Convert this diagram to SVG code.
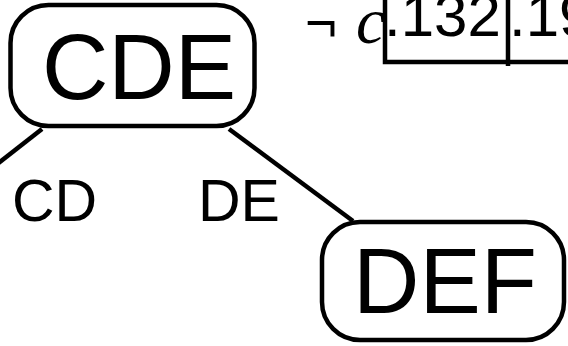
<svg xmlns="http://www.w3.org/2000/svg" width="568" height="346" viewBox="0 0 568 346">
  <style>
    .node rect { fill: #fff; stroke: #000; stroke-width: 4.5; }
    .node text { font-family: "Liberation Sans", Arial, sans-serif; font-size: 92px; text-anchor: middle; fill: #000; }
    .edge { stroke: #000; stroke-width: 4.5; fill: none; }
    .label { font-family: "Liberation Sans", Arial, sans-serif; font-size: 59px; fill: #000; }
    .cell { font-family: "Liberation Sans", Arial, sans-serif; font-size: 60px; fill: #000; }
    .grid { stroke: #000; stroke-width: 4.5; fill: none; }
  </style>

  <rect width="568" height="346" fill="#fff"/>

  <!-- connectors -->
  <g id="edges">
    <line class="edge" x1="42" y1="129" x2="-4" y2="165"/>
    <line class="edge" x1="229" y1="129" x2="353" y2="221"/>
    <text class="label" x="12" y="221">CD</text>
    <text class="label" x="198" y="221">DE</text>
  </g>

  <!-- nodes -->
  <g id="node-CDE" class="node">
    <rect x="10.5" y="5" width="244" height="121" rx="38" ry="38"/>
    <text x="139" y="99">CDE</text>
  </g>

  <g id="node-DEF" class="node">
    <rect x="322" y="222" width="242" height="118" rx="38" ry="38"/>
    <text x="445" y="313">DEF</text>
  </g>

  <!-- negated value table -->
  <g id="table">
    <text x="305" y="42" font-family="Liberation Sans, Arial, sans-serif" font-size="55">¬</text>
    <text x="356" y="43" font-family="Liberation Serif, Times New Roman, serif" font-style="italic" font-size="66">c</text>
    <path class="grid" d="M385 -2 V62 H570 M508 -2 V66"/>
    <text class="cell" x="384" y="36">.132</text>
    <text class="cell" x="509" y="36">.19</text>
  </g>
</svg>
